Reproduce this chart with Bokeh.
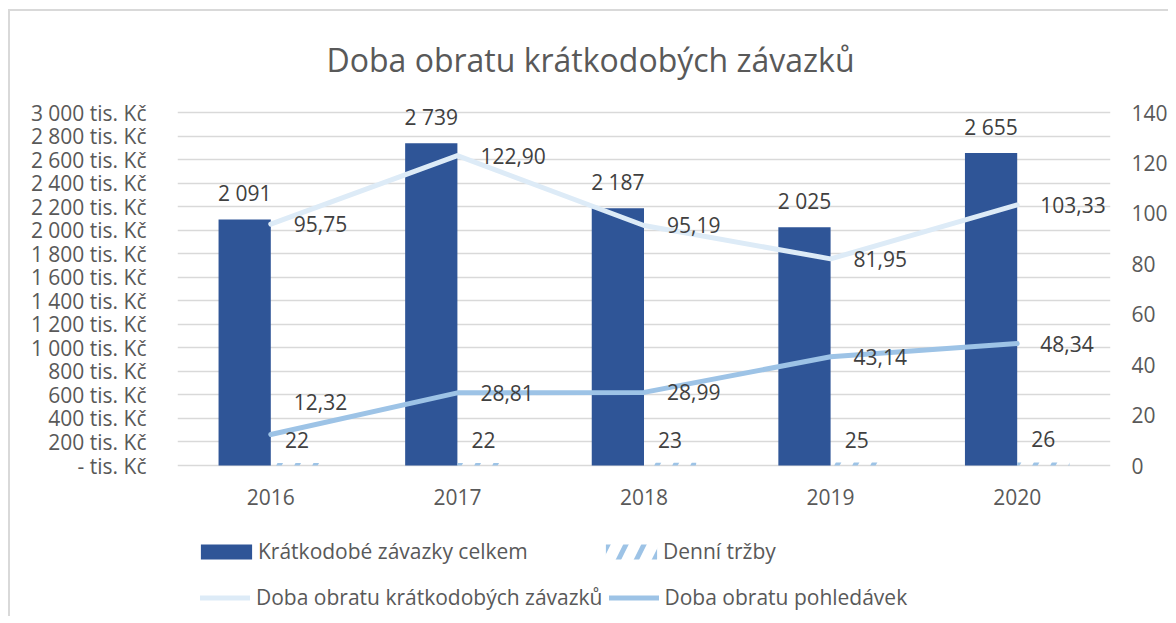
from bokeh.plotting import figure
from bokeh.models import (FactorRange, Range1d, LinearAxis, FixedTicker, Legend,
                          LegendItem, ColumnDataSource)
from bokeh.transform import dodge
from bokeh.core.properties import value
from bokeh.embed import file_html
from bokeh.resources import INLINE

# ---------------- data ----------------
years = ["2016", "2017", "2018", "2019", "2020"]
zavazky_celkem = [2091, 2739, 2187, 2025, 2655]          # tis. Kč (left axis)
denni_trzby = [22, 22, 23, 25, 26]                        # tis. Kč (left axis)
doba_obratu_zavazku = [95.75, 122.90, 95.19, 81.95, 103.33]   # days (right axis)
doba_obratu_pohledavek = [12.32, 28.81, 28.99, 43.14, 48.34]  # days (right axis)

left_max = 3000
right_max = 140
left_ticks = list(range(0, left_max + 1, 200))
right_ticks = list(range(0, right_max + 1, 20))

title_text = "Doba obratu krátkodobých závazků"
series_names = ["Krátkodobé závazky celkem", "Denní tržby",
                "Doba obratu krátkodobých závazků", "Doba obratu pohledávek"]

# ---------------- styles / layout ----------------
FONT = "Open Sans"
FS = "21px"
C_BAR = "#2F5597"
C_HATCH = "#9DC3E6"
C_LINE1 = "#DDEBF7"
C_LINE2 = "#9DC3E6"
C_GRID = "#D9D9D9"
C_AXIS_TXT = "#595959"
C_LABEL = "#404040"
pohledavky_label_shift = [-32, 0, 0, 0, 0]   # pixel shift of data labels

PLOT_PX = 353      # height in px of the value area (0 .. max)
BELOW_PX = 150     # extra px below zero for category labels + legend
ABOVE_PX = 30      # extra px above max so that data labels are not clipped
below_frac = BELOW_PX / PLOT_PX
above_frac = ABOVE_PX / PLOT_PX


def fmt_thousands(v):
    return f"{v:,}".replace(",", " ")


def fmt_dec(v):
    return f"{v:.2f}".replace(".", ",")


src = ColumnDataSource(dict(
    year=years,
    zav=zavazky_celkem,
    trz=denni_trzby,
    dz=doba_obratu_zavazku,
    dp=doba_obratu_pohledavek,
    lab_zav=[fmt_thousands(v) for v in zavazky_celkem],
    lab_trz=[fmt_thousands(v) for v in denni_trzby],
    lab_dz=[fmt_dec(v) for v in doba_obratu_zavazku],
    lab_dp=[fmt_dec(v) for v in doba_obratu_pohledavek],
    shift_dp=pohledavky_label_shift,
))

p = figure(x_range=FactorRange(*years),
           y_range=Range1d(-left_max * below_frac, left_max * (1 + above_frac)),
           width=1160, height=607, output_backend="svg", toolbar_location=None,
           min_border_left=167, min_border_right=55, min_border_top=101 - ABOVE_PX,
           min_border_bottom=3, title=title_text)
p.extra_y_ranges = {"days": Range1d(-right_max * below_frac, right_max * (1 + above_frac))}
p.outline_line_color = None
p.background_fill_color = "white"
p.border_fill_color = "white"
p.styles = {"border-left": "2px solid #D9D9D9", "border-top": "2px solid #D9D9D9",
            "margin-left": "8px", "margin-top": "9px"}

# title
p.title.text_font = FONT
p.title.text_font_size = "32px"
p.title.text_font_style = "normal"
p.title.text_color = C_AXIS_TXT
p.title.align = "left"
p.title.offset = 149
p.title.standoff = 4

# grid
p.xgrid.visible = False
p.ygrid.ticker = FixedTicker(ticks=left_ticks)
p.ygrid.grid_line_color = C_GRID
p.ygrid.grid_line_width = 1.5

# left axis
ya = p.yaxis[0]
ya.ticker = FixedTicker(ticks=left_ticks)
ya.major_label_overrides = {t: (fmt_thousands(t) if t else "-") + " tis. Kč" for t in left_ticks}
ya.axis_line_color = None
ya.major_tick_line_color = None
ya.minor_tick_line_color = None
ya.major_label_standoff = 25
ya.major_label_text_font = FONT
ya.major_label_text_font_size = FS
ya.major_label_text_color = C_AXIS_TXT

# right axis
ra = LinearAxis(y_range_name="days", ticker=FixedTicker(ticks=right_ticks))
ra.axis_line_color = None
ra.major_tick_line_color = None
ra.minor_tick_line_color = None
ra.major_label_standoff = 15
ra.major_label_text_font = FONT
ra.major_label_text_font_size = FS
ra.major_label_text_color = C_AXIS_TXT
p.add_layout(ra, "right")

# category axis: labels drawn under the zero line
p.xaxis.visible = False
common = dict(source=src, text_font=value(FONT), text_font_size=value(FS))
p.text(x="year", y=0, text="year", text_align="center", text_baseline="middle",
       y_offset=31, text_color=C_AXIS_TXT, **common)

# bars
BW = 0.28
r_bar = p.vbar(x=dodge("year", -BW / 2, range=p.x_range), top="zav", width=BW,
               source=src, fill_color=C_BAR, line_color=None)
r_hatch = p.vbar(x=dodge("year", BW / 2, range=p.x_range), top="trz", width=BW,
                 source=src, fill_color="white", fill_alpha=0, line_color=None,
                 hatch_pattern="/", hatch_color=C_HATCH, hatch_weight=5, hatch_scale=36)

# lines
r_l1 = p.line(x="year", y="dz", source=src, y_range_name="days", line_color=C_LINE1,
              line_width=5, line_cap="round", line_join="round")
r_l2 = p.line(x="year", y="dp", source=src, y_range_name="days", line_color=C_LINE2,
              line_width=5, line_cap="round", line_join="round")

# data labels
p.text(x=dodge("year", -BW / 2, range=p.x_range), y="zav", text="lab_zav",
       text_align="center", text_baseline="middle", y_offset=-26, text_color=C_LABEL, **common)
p.text(x=dodge("year", BW / 2, range=p.x_range), y="trz", text="lab_trz",
       text_align="center", text_baseline="middle", y_offset=-23, text_color=C_LABEL, **common)
p.text(x="year", y="dz", text="lab_dz", y_range_name="days",
       text_align="left", text_baseline="middle", x_offset=23, text_color=C_LABEL, **common)
p.text(x="year", y="dp", text="lab_dp", y_range_name="days",
       text_align="left", text_baseline="middle", x_offset=23, y_offset="shift_dp",
       text_color=C_LABEL, **common)

# legends (two rows, aligned columns)
leg_common = dict(orientation="horizontal", padding=0, margin=0, border_line_color=None,
                  background_fill_alpha=0, label_text_font=FONT, label_text_font_size=FS,
                  label_text_color=C_AXIS_TXT, spacing=6)
leg1 = Legend(items=[LegendItem(label=series_names[0], renderers=[r_bar]),
                     LegendItem(label=series_names[1], renderers=[r_hatch])],
              location=(17, 50), glyph_width=64, glyph_height=19, label_standoff=0,
              label_width=335, **leg_common)
leg2 = Legend(items=[LegendItem(label=series_names[2], renderers=[r_l1]),
                     LegendItem(label=series_names[3], renderers=[r_l2])],
              location=(23, 4), glyph_width=50, glyph_height=19, label_standoff=6,
              label_width=345, **leg_common)
p.add_layout(leg1, "center")
p.add_layout(leg2, "center")

open("out.html", "w").write(file_html(p, INLINE))
